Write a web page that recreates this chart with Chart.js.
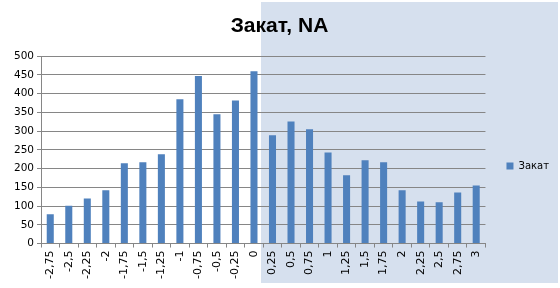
<!DOCTYPE html>
<html>
<head>
<meta charset="utf-8">
<script src="https://cdn.jsdelivr.net/npm/chart.js@4"></script>
<style>
  html, body { margin: 0; padding: 0; background: #fff; }
  #wrap { width: 560px; height: 288px; position: relative; }
</style>
</head>
<body>
<div id="wrap"><canvas id="chart"></canvas></div>
<script>
const categories = ["-2,75","-2,5","-2,25","-2","-1,75","-1,5","-1,25","-1","-0,75","-0,5","-0,25","0",
  "0,25","0,5","0,75","1","1,25","1,5","1,75","2","2,25","2,5","2,75","3"];
const zakat = [78, 101, 120, 142, 214, 217, 238, 385, 447, 345, 382, 460,
  289, 326, 305, 243, 182, 222, 217, 142, 112, 110, 136, 155];
const seriesName = "Закат";
const titleText = "Закат, NA";

const gridColor = "#868686";

// light blue panel behind the right half, like in the source picture
const backdrop = {
  id: "backdrop",
  beforeDraw(chart) {
    const c = chart.ctx;
    c.save();
    c.fillStyle = "#fff";
    c.fillRect(0, 0, chart.width, chart.height);
    c.fillStyle = "#d6e0ee";
    c.fillRect(261, 2, 297, 281);
    c.restore();
  }
};

const ctx = document.getElementById("chart");
const chart = new Chart(ctx, {
  type: "bar",
  data: {
    labels: categories,
    datasets: [{
      label: seriesName,
      data: zakat,
      backgroundColor: "#4f81bd",
      borderWidth: 0,
      barPercentage: 0.38,
      categoryPercentage: 1,
    }]
  },
  options: {
    animation: false,
    responsive: true,
    maintainAspectRatio: false,
    layout: { padding: { left: 0, right: 1, top: 0, bottom: 6 } },
    plugins: {
      title: {
        display: true,
        text: titleText,
        color: "#000",
        font: { family: "Liberation Sans", size: 21, weight: "bold" },
        padding: { top: 14, bottom: 17 }
      },
      legend: {
        position: "right",
        title: {
          display: true,
          text: " ",
          font: { size: 10 },
          padding: { top: 0, bottom: 38 }
        },
        labels: {
          boxWidth: 7,
          boxHeight: 7,
          padding: 21,
          color: "#000",
          font: { family: "DejaVu Sans", size: 10 }
        }
      },
      tooltip: { enabled: false }
    },
    scales: {
      x: {
        grid: {
          offset: true,
          drawOnChartArea: false,
          drawTicks: true,
          tickLength: 4,
          color: gridColor
        },
        border: { display: true, color: gridColor },
        ticks: {
          color: "#000",
          minRotation: 90,
          maxRotation: 90,
          autoSkip: false,
          padding: 3,
          font: { family: "DejaVu Sans", size: 11 }
        }
      },
      y: {
        min: 0,
        max: 500,
        afterFit(scale) { scale.width = 41; },
        grid: { color: gridColor, tickLength: 4 },
        border: { display: true, color: gridColor },
        ticks: {
          stepSize: 50,
          color: "#000",
          padding: 3,
          font: { family: "DejaVu Sans", size: 10.5 }
        }
      }
    }
  },
  plugins: [backdrop]
});
</script>
</body>
</html>
